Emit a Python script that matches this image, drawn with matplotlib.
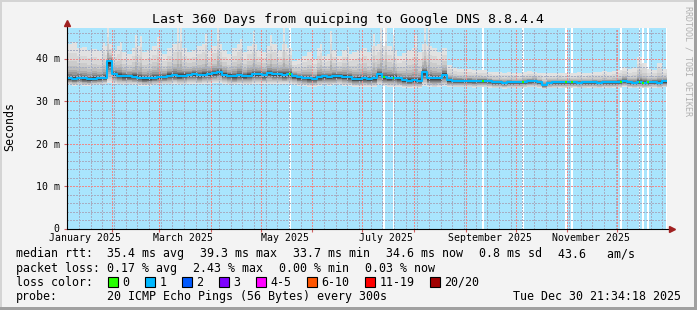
import numpy as np
import matplotlib
matplotlib.use('Agg')  # no display
import matplotlib.pyplot as plt
import matplotlib.dates as mdates
from matplotlib.patches import Rectangle
from datetime import datetime, timedelta

window_start = datetime(2025, 1, 4, 21, 34, 18)
window_end = datetime(2025, 12, 30, 21, 34, 18)
step_days = 3

# median rtt per 3-day step (ms)
median_ms = [
    35.3, 35.2, 35.4, 35.3, 35.1, 35.2, 35.3, 35.5, 39.3, 36.4,
    36.0, 35.8, 35.8, 35.7, 35.5, 35.3, 35.3, 35.5, 35.6, 35.7,
    36.0, 36.1, 35.9, 36.0, 36.2, 36.3, 36.1, 36.2, 36.3, 36.5,
    36.8, 36.2, 36.0, 35.9, 36.1, 35.9, 36.0, 36.3, 36.4, 36.2,
    36.5, 36.3, 36.4, 36.2, 36.3, 35.9, 35.6, 35.5, 35.3, 35.2,
    35.6, 35.8, 35.7, 35.8, 35.9, 35.7, 35.6, 35.2, 35.2, 35.3,
    35.2, 35.3, 36.3, 35.6, 35.4, 35.5, 35.3, 34.9, 34.8, 34.9,
    34.8, 36.8, 35.4, 35.3, 35.4, 36.2, 34.9, 34.8, 34.8, 34.8,
    34.8, 34.7, 34.8, 34.8, 34.7, 34.4, 34.4, 34.3, 34.4, 34.4,
    34.4, 34.5, 34.7, 34.8, 34.5, 33.7, 34.3, 34.4, 34.4, 34.4,
    34.4, 34.4, 34.3, 34.4, 34.4, 34.4, 34.3, 34.4, 34.4, 34.4,
    34.5, 34.8, 34.4, 34.3, 34.4, 34.3, 34.4, 34.5, 34.3, 34.6,
]
# slowest ping per step (top of the smoke)
max_ms = [
    43.5, 43.8, 42.5, 42.8, 42.0, 42.3, 41.8, 43.0, 43.5, 42.0,
    43.0, 41.5, 41.0, 42.5, 43.0, 41.5, 42.0, 43.0, 41.8, 41.0,
    42.5, 43.5, 44.0, 42.5, 41.5, 42.0, 43.0, 43.5, 42.0, 43.0,
    43.5, 42.0, 41.0, 42.5, 43.5, 41.5, 43.0, 43.5, 42.0, 41.5,
    43.0, 43.5, 42.0, 43.5, 42.5, 39.5, 39.8, 40.5, 41.5, 40.0,
    42.5, 40.5, 41.0, 42.0, 40.5, 42.0, 41.0, 41.5, 42.0, 42.5,
    41.5, 43.0, 43.5, 43.0, 43.0, 42.0, 40.5, 41.2, 42.0, 42.5,
    41.5, 43.5, 43.0, 42.5, 41.5, 42.5, 38.5, 37.8, 37.6, 37.5,
    37.6, 37.4, 37.3, 37.2, 36.9, 36.8, 36.8, 36.7, 36.8, 36.7,
    36.6, 36.8, 37.0, 36.9, 36.7, 36.5, 36.6, 36.5, 36.7, 36.6,
    36.5, 36.6, 36.8, 36.6, 36.7, 36.9, 36.8, 37.0, 36.8, 37.0,
    37.3, 38.0, 37.5, 37.8, 40.3, 39.0, 37.5, 37.3, 39.0, 37.5,
]
# fastest ping per step (bottom of the smoke)
min_ms = [
    33.8, 33.6, 33.7, 33.5, 33.6, 33.7, 33.8, 33.9, 34.2, 34.0,
    33.9, 33.8, 33.9, 33.8, 33.6, 33.5, 33.6, 33.7, 33.8, 33.9,
    33.9, 34.0, 33.8, 33.9, 34.0, 34.1, 33.9, 34.0, 34.1, 34.2,
    34.3, 34.0, 33.8, 33.7, 33.9, 33.8, 33.8, 34.0, 34.1, 33.9,
    34.1, 34.0, 34.1, 33.9, 34.0, 33.8, 33.6, 33.5, 33.4, 33.4,
    33.6, 33.7, 33.6, 33.7, 33.8, 33.6, 33.5, 33.3, 33.3, 33.4,
    33.3, 33.4, 33.8, 33.5, 33.4, 33.4, 33.3, 33.1, 33.0, 33.1,
    33.0, 33.6, 33.3, 33.2, 33.3, 33.5, 33.3, 33.2, 33.2, 33.2,
    33.2, 33.1, 33.2, 33.2, 33.1, 33.0, 33.0, 32.9, 33.0, 33.0,
    33.0, 33.1, 33.2, 33.2, 33.1, 32.8, 33.0, 33.0, 33.1, 33.0,
    33.0, 33.1, 33.0, 33.0, 33.1, 33.0, 33.0, 33.1, 33.0, 33.1,
    33.1, 33.3, 33.1, 33.0, 33.1, 33.0, 33.1, 33.1, 33.0, 33.2,
]
# short spikes of slow pings (day into window, ms)
peak_days = [21.6, 24.0, 31.8, 40.8, 43.8, 54.0, 66.0, 67.8, 82.8, 90.0,
             103.8, 111.6, 121.8, 129.6, 151.8, 157.8, 168.0, 183.6, 187.8,
             190.8, 195.6, 208.8, 214.2, 216.6]
peak_ms = [44.0, 47.3, 44.0, 45.5, 45.4, 45.0, 47.3, 47.3, 46.0, 47.3,
           44.5, 46.5, 45.5, 47.3, 43.5, 46.5, 42.8, 46.0, 47.3,
           47.3, 45.6, 45.6, 47.3, 47.3]
# stretches with 0/20 loss (day into window, length in days)
zero_loss_days = [133.2, 189.6, 195.3, 248.7, 272.7, 298.5, 302.4, 331.5, 342.9, 345.0, 348.0]
zero_loss_len = [1.2, 1.2, 0.9, 1.2, 1.2, 1.5, 1.2, 1.2, 1.1, 1.2, 1.2]
data_end_day = 359.4

loss_labels = ['0', '1', '2', '3', '4-5', '6-10', '11-19', '20/20']
loss_colors = ['#26ff00', '#00b8ff', '#0059ff', '#7e00ff', '#ff00ff', '#ff5500', '#ff0000', '#a00000']

# smoke shading, outermost band first
smoke_colors = ['#e2e2e2', '#d7d7d7', '#cbcbcb', '#bdbdbd', '#acacac',
                '#989898', '#808080', '#656565', '#494949', '#2c2c2c']
up_frac = [1.0, 0.72, 0.5, 0.35, 0.25, 0.18, 0.12, 0.08, 0.05, 0.025]
lo_frac = [1.0, 0.9, 0.8, 0.7, 0.6, 0.5, 0.4, 0.3, 0.2, 0.1]

W, H = 697, 310
MONO = 'DejaVu Sans Mono'
plt.rcParams['font.family'] = MONO


def fx(px):
    return px / W


def fy(py):
    return 1 - py / H


fig = plt.figure(figsize=(W / 100, H / 100), dpi=100, facecolor='#f3f3f3')
# 3d-ish frame
fig.add_artist(Rectangle((0, fy(2)), 1, 2 / H, transform=fig.transFigure, color='#d4d4d4', lw=0))
fig.add_artist(Rectangle((0, 0), 2 / W, 1, transform=fig.transFigure, color='#d4d4d4', lw=0))
fig.add_artist(Rectangle((0, 0), 1, 3 / H, transform=fig.transFigure, color='#a0a0a0', lw=0))
fig.add_artist(Rectangle((fx(694), 0), 3 / W, 1, transform=fig.transFigure, color='#a0a0a0', lw=0))

ax_top, ax_bot, ax_left, ax_right = 27.5, 228.5, 67, 667
ax = fig.add_axes([fx(ax_left), fy(ax_bot), (ax_right - ax_left) / W, (ax_bot - ax_top) / H])
ax.set_facecolor('white')
for s in ax.spines.values():
    s.set_visible(False)

t0 = mdates.date2num(window_start)
t1 = mdates.date2num(window_end)
ymax = (ax_bot - ax_top) / 4.25
ax.set_xlim(t0, t1)
ax.set_ylim(0, ymax)

med = np.array(median_ms)
hi = np.array(max_ms)
lo = np.array(min_ms)
edges = t0 + step_days * np.arange(len(med) + 1)


def ext(a):
    return np.append(a, a[-1])


# loss background
ax.axvspan(t0, t0 + data_end_day, color='#a9e5fd', lw=0, zorder=0.5)
for d, L in zip(zero_loss_days, zero_loss_len):
    ax.axvspan(t0 + d, t0 + d + L, color='white', lw=0, zorder=0.6)

# smoke
for k, (fu, fl, col) in enumerate(zip(up_frac, lo_frac, smoke_colors)):
    z = 1 + k * 0.05
    top = med + fu * (hi - med)
    bot = med - fl * (med - lo)
    ax.fill_between(edges, ext(bot), ext(top), step='post', color=col, lw=0,
                    antialiased=False, zorder=z)
    if k > 4:
        continue
    for d, p in zip(peak_days, peak_ms):
        m = med[int(d // step_days)]
        ax.bar(t0 + d, fu * (p - m), bottom=m, width=0.9, align='edge',
               color=col, lw=0, antialiased=False, zorder=z)

# grid on top of smoke, dotted
minor_kw = dict(color='#a6adc2', lw=0.72, ls=(0, (2, 2)), antialiased=False, zorder=3)
major_kw = dict(color='#ec8a8a', lw=0.72, ls=(0, (2, 2)), antialiased=False, zorder=3.1)
for y in np.arange(2, ymax, 2):
    ax.axhline(y, **(major_kw if y % 10 == 0 else minor_kw))
month_starts = [datetime(2025, m, 1) for m in range(2, 13)]
sunday = datetime(2025, 1, 5)
while sunday < window_end:
    if sunday.day != 1:
        ax.axvline(mdates.date2num(sunday), **minor_kw)
    sunday += timedelta(days=7)
for ms in month_starts:
    ax.axvline(mdates.date2num(ms), **major_kw)

# median line, colored by loss
ax.step(edges, ext(med), where='post', color=loss_colors[1], lw=1.5, zorder=4)
for d, L in zip(zero_loss_days, zero_loss_len):
    m = med[int(d // step_days)]
    ax.hlines(m, t0 + d, t0 + d + L, color=loss_colors[0], lw=1.5, zorder=4.5)

# axes with arrows
ax.plot([0, 0], [0, 1.02], transform=ax.transAxes, color='black', lw=0.8, clip_on=False, zorder=6)
ax.plot([0, 1.006], [0, 0], transform=ax.transAxes, color='black', lw=0.8, clip_on=False, zorder=6)
ax.plot([0], [1.022], marker='^', ms=4.5, color='#a02020', transform=ax.transAxes, clip_on=False, zorder=7)
ax.plot([1.008], [0], marker='>', ms=4.5, color='#a02020', transform=ax.transAxes, clip_on=False, zorder=7)

# ticks
ax.set_xticks([mdates.date2num(m) for m in month_starts])
ax.set_xticklabels([])
ax.tick_params(axis='x', length=2, width=0.8, color='#d06060', direction='out')
yt = [0, 10, 20, 30, 40]
ax.set_yticks(yt)
ax.set_yticklabels(['0' if v == 0 else f'{v} m' for v in yt], fontsize=7.1, family=MONO)
ax.tick_params(axis='y', length=2, width=0.8, color='#d06060', direction='out', pad=3.2)

label_months = [datetime(2025, m, 15, 12) for m in (1, 3, 5, 7, 9, 11)]
label_y = (ax_bot - 241) / (ax_bot - ax_top)
for lm in label_months:
    ax.text(mdates.date2num(lm), label_y, lm.strftime('%B %Y'),
            transform=ax.get_xaxis_transform(),
            ha='center', va='baseline', fontsize=7.1, family=MONO)

# titles
fig.text(fx(348), fy(23.5), 'Last 360 Days from quicping to Google DNS 8.8.4.4',
         ha='center', va='baseline', fontsize=9.5, family=MONO)
fig.text(fx(10), fy(126.5), 'Seconds', rotation=90, ha='center', va='center',
         fontsize=8.4, family=MONO)
fig.text(fx(688), fy(61), 'RRDTOOL / TOBI OETIKER', rotation=270, ha='center', va='center',
         fontsize=6, family=MONO, color='#b0b0b0')

# legend
fs = 8.35
rows = [257.3, 271.6, 285.9, 300.2]
row1 = [(16, 'median rtt:'), (107, '35.4 ms avg'), (200, '39.3 ms max'), (293, '33.7 ms min'),
        (386, '34.6 ms now'), (479, '0.8 ms sd'), (558, '43.6   am/s')]
row2 = [(16, 'packet loss:'), (107, '0.17 % avg'), (193, '2.43 % max'), (279, '0.00 % min'),
        (365, '0.03 % now')]
for x, s in row1:
    fig.text(fx(x), fy(rows[0]), s, ha='left', va='baseline', fontsize=fs, family=MONO)
for x, s in row2:
    fig.text(fx(x), fy(rows[1]), s, ha='left', va='baseline', fontsize=fs, family=MONO)

fig.text(fx(16), fy(rows[2]), 'loss color:', ha='left', va='baseline', fontsize=fs, family=MONO)
bx = 108
for lab, col in zip(loss_labels, loss_colors):
    fig.add_artist(Rectangle((fx(bx), fy(287)), 10 / W, 10 / H, transform=fig.transFigure,
                             facecolor=col, edgecolor='black', lw=0.8))
    tx = bx + 14.5
    fig.text(fx(tx), fy(rows[2]), lab, ha='left', va='baseline', fontsize=fs, family=MONO)
    bx = tx + 6.98 * len(lab) + 15.5

fig.text(fx(16), fy(rows[3]), 'probe:', ha='left', va='baseline', fontsize=fs, family=MONO)
fig.text(fx(107), fy(rows[3]), '20 ICMP Echo Pings (56 Bytes) every 300s',
         ha='left', va='baseline', fontsize=fs, family=MONO)
fig.text(fx(681), fy(rows[3]), window_end.strftime('%a %b %d %H:%M:%S %Y'),
         ha='right', va='baseline', fontsize=fs, family=MONO)

fig.savefig('out.png', dpi=100, facecolor=fig.get_facecolor())
